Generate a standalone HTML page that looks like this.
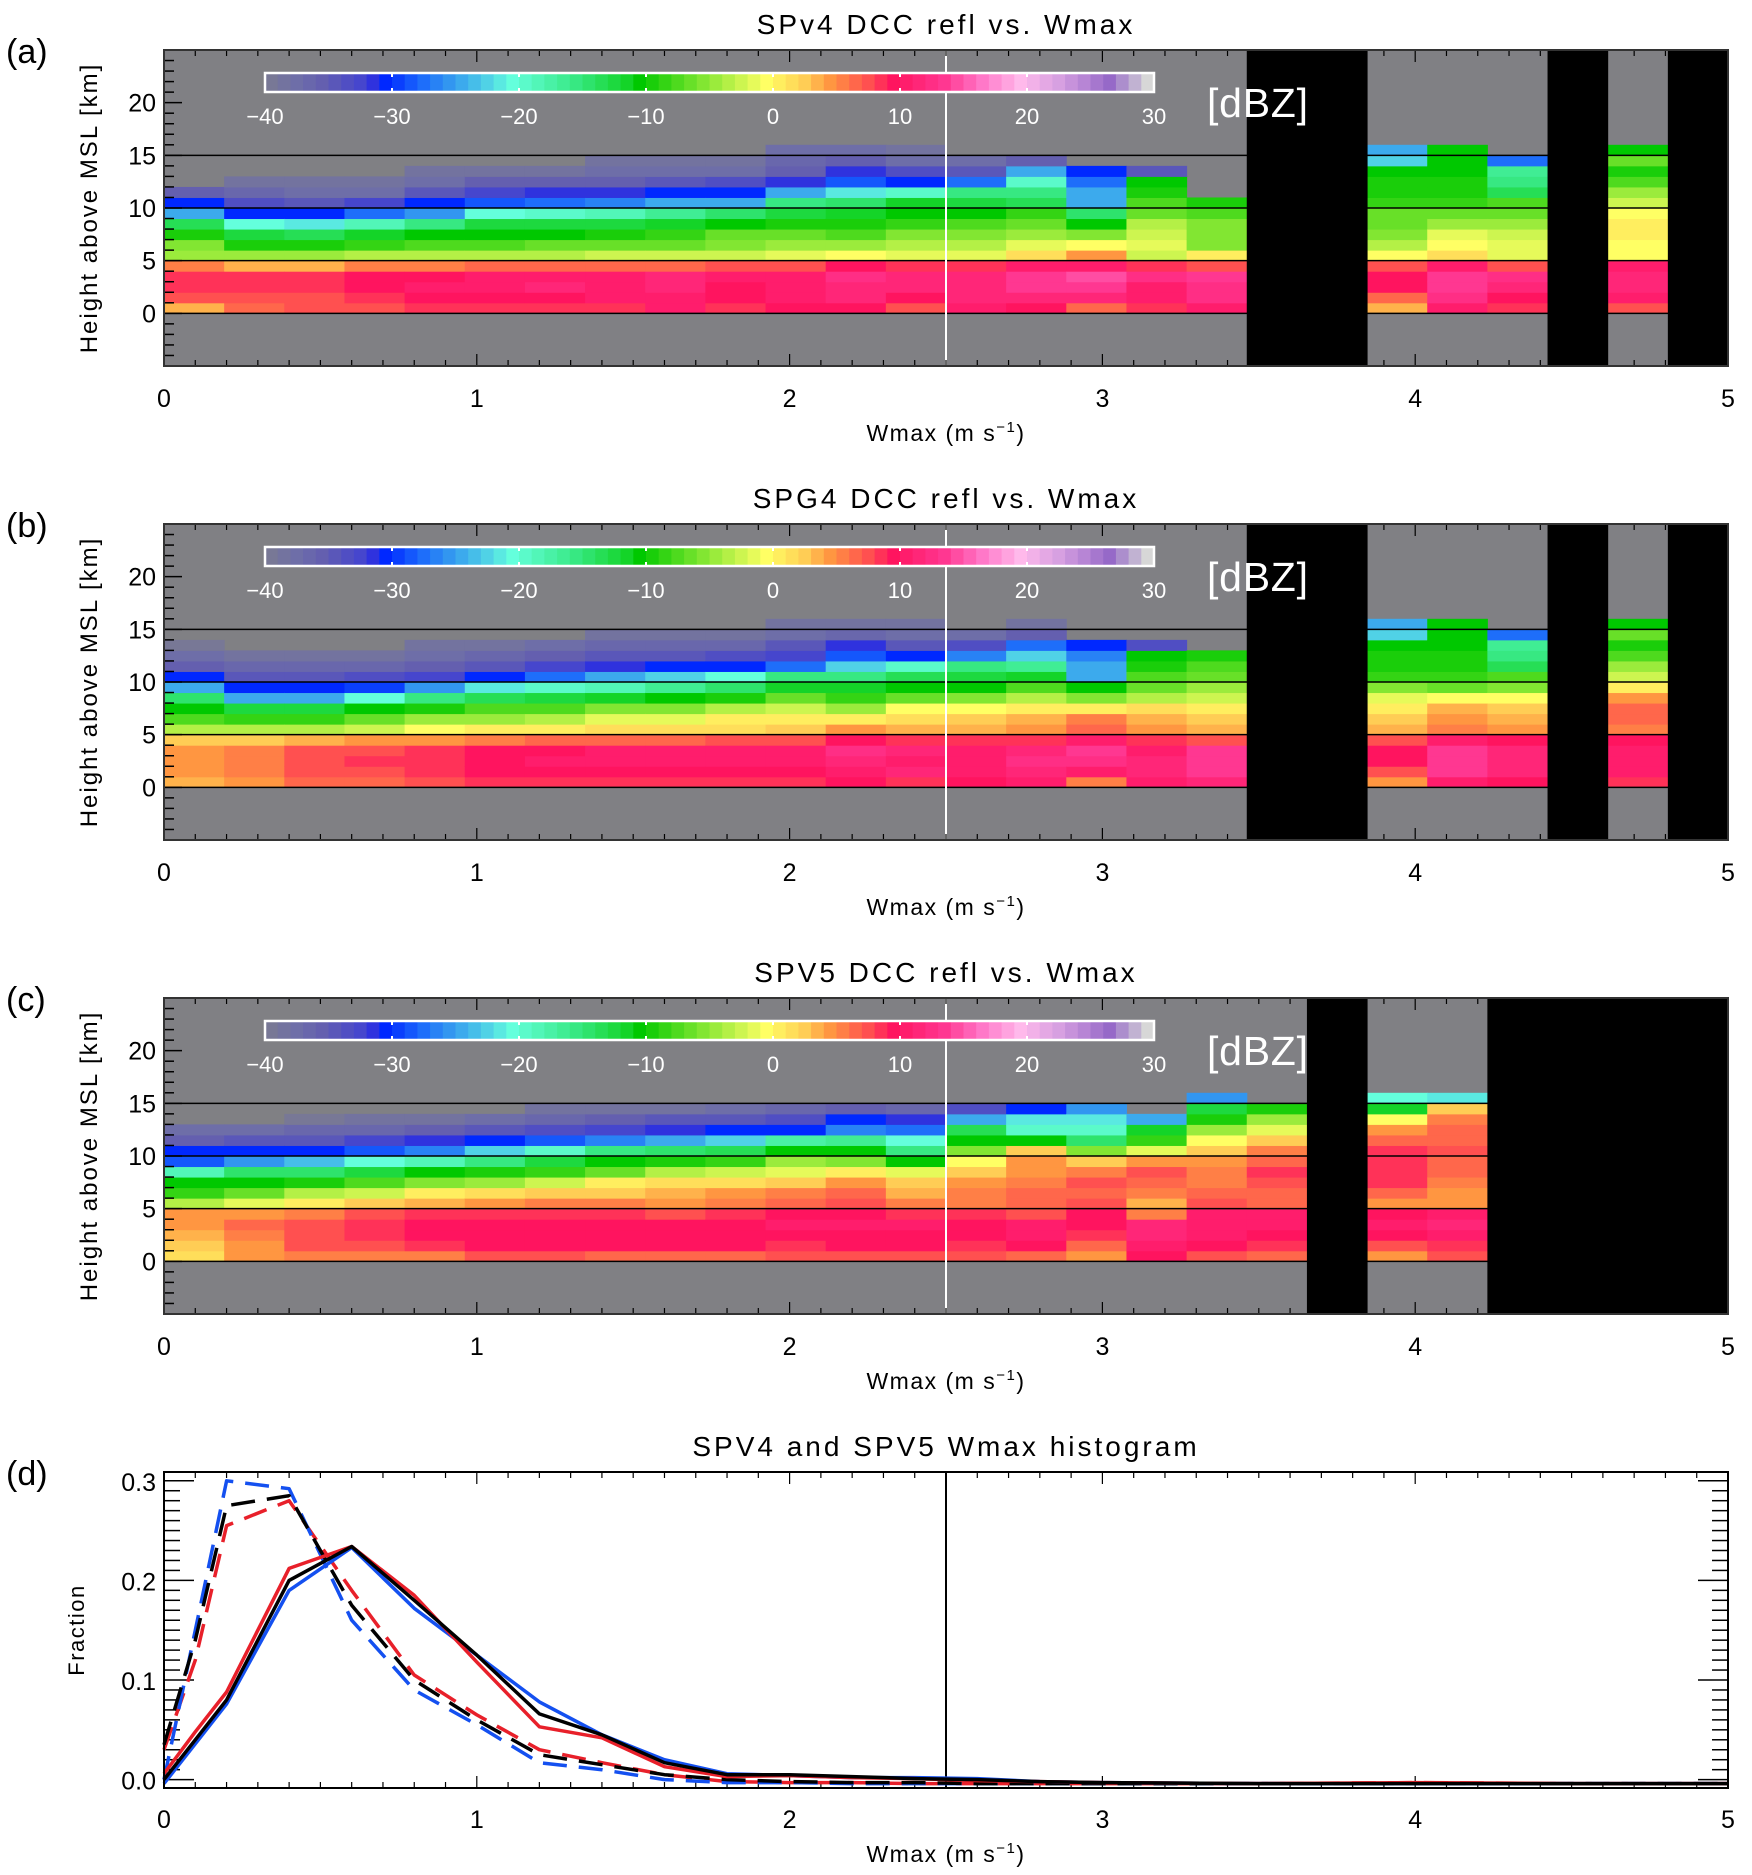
<!DOCTYPE html>
<html><head><meta charset="utf-8">
<style>
html,body{margin:0;padding:0;background:#fff;}
svg{display:block;font-family:"Liberation Sans",sans-serif;}
</style></head>
<body>
<svg id="fig" width="1752" height="1875" viewBox="0 0 1752 1875" xmlns="http://www.w3.org/2000/svg"></svg>
<script>
// ===== Data =====
const colorbarTicks = [-40,-30,-20,-10,0,10,20,30];
const xTickLabels = [0,1,2,3,4,5];
const yTickLabelsKm = [0,5,10,15,20];
const nCols = 26;
// panel (a) columns: dBZ per 1-km layer from 0 km upward; null = black (no data)
const colsA = [
[4,8,9,9,6,-4,-5,-9,-13,-24,-30,-35],
[7,8,9,9,4,-4,-9,-12,-20,-30,-33,-36,-38],
[8,8,9,9,4,-4,-9,-13,-21,-30,-34,-37,-38],
[8,9,10,10,6,-3,-8,-11,-18,-27,-32,-37,-38],
[9,10,11,10,6,-3,-7,-10,-15,-25,-30,-34,-37,-38],
[9,10,11,11,7,-3,-7,-10,-12,-20,-28,-32,-35,-38],
[9,10,12,11,7,-3,-6,-10,-12,-19,-27,-31,-35,-38],
[9,11,11,11,7,-2,-6,-9,-12,-18,-26,-31,-35,-37,-38],
[11,11,12,12,7,-2,-6,-8,-11,-16,-24,-30,-34,-37,-38],
[9,10,10,11,8,-2,-5,-6,-10,-14,-24,-30,-33,-37,-38],
[10,11,11,11,8,-1,-4,-6,-9,-12,-15,-24,-31,-35,-36,-37],
[10,12,12,13,10,0,-4,-7,-9,-11,-14,-21,-28,-31,-35,-37],
[8,10,12,12,9,-1,-3,-5,-8,-10,-11,-19,-30,-33,-37,-38],
[11,12,12,12,9,-1,-3,-5,-7,-10,-12,-15,-27,-34,-37],
[10,12,14,14,11,2,-1,-4,-6,-8,-13,-15,-19,-24,-35],
[7,12,14,15,11,5,0,-5,-10,-14,-24,-24,-27,-30],
[9,11,11,13,9,-2,-1,-2,-3,-6,-7,-9,-10,-34],
[11,13,13,14,8,1,-5,-5,-5,-7,-9],
null,null,
[4,7,10,10,8,0,-3,-5,-6,-6,-8,-9,-9,-10,-22,-24],
[11,13,14,14,11,2,0,-1,-4,-6,-8,-9,-9,-10,-10,-10],
[9,10,12,13,8,-1,-1,-2,-4,-6,-7,-13,-15,-16,-27],
null,
[8,11,12,12,11,0,0,1,1,0,-2,-4,-7,-9,-6,-10],
null
];
const colsB = [
[4,5,5,5,3,-3,-7,-10,-14,-24,-30,-35,-37,-39],
[5,6,6,6,3,-3,-8,-12,-24,-30,-34,-36,-38],
[7,8,8,8,4,-3,-8,-12,-24,-30,-34,-36,-38],
[7,8,9,8,5,-2,-6,-10,-20,-29,-33,-36,-38],
[8,9,9,9,5,0,-4,-9,-15,-25,-32,-35,-37,-38],
[9,10,10,10,6,1,-4,-7,-13,-21,-30,-34,-36,-38],
[9,10,11,10,7,1,-3,-7,-12,-19,-27,-32,-35,-37],
[9,10,11,11,7,2,-1,-5,-11,-18,-24,-31,-34,-36,-38],
[9,10,11,11,7,2,-1,-5,-10,-16,-22,-30,-34,-36,-38],
[9,10,11,11,8,2,1,-3,-9,-14,-20,-30,-33,-36,-38],
[9,10,11,11,8,3,1,-2,-6,-11,-15,-27,-32,-34,-37,-38],
[10,11,12,13,10,5,1,-4,-8,-11,-15,-22,-28,-31,-36,-38],
[9,12,11,12,9,4,2,0,-6,-10,-13,-19,-30,-34,-37,-38],
[10,11,11,11,9,4,3,0,-5,-10,-12,-15,-26,-33,-37],
[11,12,13,12,9,5,4,1,-3,-7,-11,-16,-22,-27,-35,-38],
[6,11,13,14,11,7,6,1,-5,-10,-24,-24,-26,-30],
[11,12,12,11,9,5,4,2,-3,-6,-7,-9,-10,-33],
[12,14,14,14,8,4,3,1,-2,-4,-6,-7,-9],
null,null,
[5,8,10,10,8,4,3,1,-1,-5,-8,-9,-9,-10,-22,-24],
[11,14,14,14,11,6,5,4,0,-6,-8,-9,-9,-10,-10,-10],
[10,12,12,12,10,5,4,3,0,-5,-7,-13,-15,-16,-27],
null,
[9,11,11,11,10,6,7,7,5,1,-2,-4,-7,-9,-6,-10],
null
];
const colsC = [
[2,3,4,5,5,-3,-8,-10,-18,-28,-30,-35,-37],
[5,5,6,7,5,-1,-6,-10,-14,-25,-30,-34,-37],
[6,8,8,8,6,1,-3,-9,-14,-23,-30,-34,-36,-39],
[6,8,9,9,8,3,-2,-7,-12,-20,-28,-32,-36,-38],
[6,9,10,10,9,4,1,-5,-10,-18,-26,-31,-35,-38],
[8,10,10,10,9,5,2,-4,-9,-15,-22,-30,-34,-37],
[8,10,10,10,9,6,3,-2,-8,-12,-19,-28,-33,-36,-38],
[7,10,10,10,9,6,3,1,-6,-10,-15,-26,-32,-35,-38],
[7,10,10,10,8,5,4,2,-3,-9,-14,-24,-31,-34,-38],
[7,10,10,10,9,6,5,2,-2,-8,-13,-22,-30,-34,-37],
[8,9,10,11,10,7,6,3,-1,-4,-10,-17,-30,-33,-36],
[8,10,10,11,10,8,7,5,1,-5,-10,-16,-26,-30,-35],
[8,10,10,11,9,6,4,3,-1,-10,-15,-20,-27,-31,-36],
[8,9,10,10,9,6,6,5,3,0,-5,-10,-13,-24,-33],
[7,10,11,11,8,7,7,6,5,5,3,-10,-19,-21,-30],
[5,7,9,10,10,8,7,8,6,3,-5,-14,-19,-21,-25],
[10,11,12,12,6,4,6,7,8,5,-1,-8,-11,-24],
[8,10,11,11,11,8,7,6,6,5,3,0,-4,-9,-12,-25],
[7,9,10,11,11,7,7,8,9,7,6,3,-1,-4,-9],
null,
[5,8,10,11,10,5,7,9,9,9,9,7,5,0,-11,-20],
[8,9,11,12,11,5,5,6,7,7,8,7,7,6,3,-21],
null,null,null,null
];
// panel (d) histogram series
const histX = [0,0.1,0.2,0.4,0.6,0.8,1.0,1.2,1.4,1.6,1.8,2.0,2.2,2.4,2.6,2.8,3.0,3.5,4.0,4.5,5.0];
const v4Solid = [0.000,0.040,0.080,0.200,0.234,0.180,0.125,0.066,0.045,0.017,0.005,0.005,0.003,0.001,0.000,-0.002,-0.003,-0.004,-0.004,-0.004,-0.004];
const v5Solid = [0.006,0.048,0.088,0.212,0.234,0.185,0.118,0.053,0.042,0.013,0.003,0.004,0.002,0.001,-0.001,-0.002,-0.003,-0.004,-0.003,-0.004,-0.004];
const g4Solid = [-0.004,0.036,0.076,0.190,0.233,0.172,0.125,0.078,0.045,0.020,0.006,0.004,0.002,0.002,0.001,-0.002,-0.003,-0.004,-0.004,-0.004,-0.004];
const v4Dash = [0.035,0.140,0.275,0.285,0.175,0.100,0.060,0.025,0.015,0.005,0.000,-0.002,-0.003,-0.003,-0.004,-0.004,-0.004,-0.004,-0.004,-0.004,-0.004];
const v5Dash = [0.030,0.120,0.255,0.280,0.190,0.105,0.065,0.030,0.017,0.005,-0.002,-0.003,-0.003,-0.004,-0.004,-0.004,-0.004,-0.004,-0.003,-0.004,-0.004];
const g4Dash = [0.000,0.150,0.300,0.292,0.160,0.090,0.055,0.017,0.010,0.000,-0.003,-0.003,-0.004,-0.004,-0.004,-0.004,-0.004,-0.004,-0.004,-0.004,-0.004];
const fracTicks = ["0.0","0.1","0.2","0.3"];
const fracTickVals = [0,0.1,0.2,0.3];

// ===== helpers =====
const NS="http://www.w3.org/2000/svg";
const svg=document.getElementById('fig');
function el(tag,attrs,parent,text){const e=document.createElementNS(NS,tag);for(const k in attrs)e.setAttribute(k,attrs[k]);if(text!==undefined)e.textContent=text;(parent||svg).appendChild(e);return e;}
const L=164,R=1728;
function xs(v){return L+(R-L)*v/5;}
const stops=[[-40,[128,128,130]],[-39,[120,120,150]],[-37,[110,110,168]],[-35,[100,95,175]],[-32,[70,70,205]],[-30.5,[35,40,230]],[-30,[0,40,255]],[-27,[30,110,250]],[-25,[50,150,240]],[-22,[80,210,230]],[-20,[100,255,220]],[-15,[55,232,130]],[-11,[20,212,40]],[-10,[0,200,0]],[-5,[130,230,50]],[-1,[230,250,90]],[0,[255,255,100]],[3,[255,205,85]],[5,[255,150,65]],[8,[255,80,80]],[10,[255,20,95]],[14,[255,55,145]],[17,[255,120,200]],[20,[255,185,235]],[23,[215,160,225]],[27,[150,105,200]],[30,[215,215,215]]];
function cmap(v){v=Math.round(v);if(v<=-40)return 'rgb(128,128,130)';if(v>=30)return 'rgb(215,215,215)';
for(let i=0;i<stops.length-1;i++){const a=stops[i],b=stops[i+1];if(v>=a[0]&&v<=b[0]){const t=(v-a[0])/(b[0]-a[0]);const c=a[1].map((x,j)=>Math.round(x+(b[1][j]-x)*t));return 'rgb('+c.join(',')+')';}}return '#888';}

function heatPanel(top,bot,cols,title,letter,id){
  const g=el('g',{});
  
  
  const ys=km=>bot-(bot-top)*(km+5)/30;
  const bg=el('rect',{x:L,y:top,width:R-L,height:bot-top,fill:'#808084'},g);
  
  
  const cw=5/nCols;
  cols.forEach((col,i)=>{
    if(!col)return;
    col.forEach((v,k)=>{
      if(v===null)return;
      const r=el('rect',{x:xs(i*cw),y:ys(k+1),width:xs((i+1)*cw)-xs(i*cw)+0.5,height:ys(k)-ys(k+1)+0.5,fill:cmap(v)},g);
      
      
    });
  });
  [0,5,10,15].forEach(h=>{const ln=el('line',{x1:L,x2:R,y1:ys(h),y2:ys(h),stroke:'#000','stroke-width':1.5},g);
    
    });
  cols.forEach((col,i)=>{
    if(col)return;
    const b=el('rect',{x:xs(i*cw),y:top,width:xs((i+1)*cw)-xs(i*cw)+0.5,height:bot-top,fill:'#000'},g);
    
    
  });
  const wl=el('line',{x1:xs(2.5),x2:xs(2.5),y1:top,y2:bot,stroke:'#fff','stroke-width':2},g);
  
  
  for(let k=-5;k<=25;k++){const big=k%5===0;el('line',{x1:L,x2:L+(big?18:10),y1:ys(k),y2:ys(k),stroke:'#000','stroke-width':1.5},g);}
  for(let j=0;j<=50;j++){const big=j%10===0;el('line',{x1:xs(j/10),x2:xs(j/10),y1:top,y2:top+(big?12:6),stroke:'#000','stroke-width':1.2},g);el('line',{x1:xs(j/10),x2:xs(j/10),y1:bot,y2:bot-(big?12:6),stroke:'#000','stroke-width':1.2},g);}
  el('rect',{x:L,y:top,width:R-L,height:bot-top,fill:'none',stroke:'#333','stroke-width':2},g);
  // colorbar
  const cbx0=265,cbx1=1154,cby=top+23,cbh=19;
  const cbs=(cbx1-cbx0)/70;
  for(let v=-40;v<30;v++){el('rect',{x:cbx0+(v+40)*cbs,y:cby,width:cbs+0.6,height:cbh,fill:cmap(v+0.5)},g);}
  const cbo=el('rect',{x:cbx0,y:cby,width:cbx1-cbx0,height:cbh,fill:'none',stroke:'#fff','stroke-width':2.5},g);
  
  
  colorbarTicks.forEach(t=>{const x=cbx0+(t+40)*cbs;
    el('line',{x1:x,x2:x,y1:cby,y2:cby+4,stroke:'#fff','stroke-width':2},g);
    el('line',{x1:x,x2:x,y1:cby+cbh,y2:cby+cbh-4,stroke:'#fff','stroke-width':2},g);
    const tl=el('text',{x:x,y:cby+51,'font-size':22,fill:'#fff','text-anchor':'middle'},g,(t<0?'\u2212':'')+Math.abs(t));
    
    });
  const u=el('text',{x:1207,y:top+67,'font-size':41,fill:'#fff',textLength:101},g,'[dBZ]');
  
  
  yTickLabelsKm.forEach(h=>{const t=el('text',{x:156,y:ys(h)+9,'font-size':25,'text-anchor':'end'},g,String(h));
    
    });
  xTickLabels.forEach(v=>{const t=el('text',{x:xs(v),y:bot+41,'font-size':25,'text-anchor':'middle'},g,String(v));
    
    });
  const yt=el('text',{transform:`translate(97,${(top+bot)/2}) rotate(-90)`,'font-size':24,'text-anchor':'middle','letter-spacing':'2'},g,'Height  above  MSL  [km]');
  
  
  const xt=el('text',{x:946,y:bot+75,'font-size':23,'text-anchor':'middle','letter-spacing':'1.5'},g);
  
  
  xt.innerHTML='Wmax (m s<tspan dy="-9" font-size="15">\u22121</tspan><tspan dy="9">)</tspan>';
  const tt=el('text',{x:946,y:top-16,'font-size':28,'text-anchor':'middle','letter-spacing':'3'},g,title);
  
  
  const lt=el('text',{x:6,y:top+13,'font-size':34},g,letter);
  
  
}
heatPanel(50,366,colsA,'SPv4  DCC  refl  vs.  Wmax','(a)','a');
heatPanel(524,840,colsB,'SPG4  DCC  refl  vs.  Wmax','(b)','b');
heatPanel(998,1314,colsC,'SPV5  DCC  refl  vs.  Wmax','(c)','c');

// ===== panel d =====
(function(){
  const top=1472,bot=1788,ymin=-0.0084,ymax=0.3088;
  const ys=v=>bot-(bot-top)*(v-ymin)/(ymax-ymin);
  const g=el('g',{});
  
  
  for(let k=0;k<=30;k++){const v=k/100,big=k%10===0;
    el('line',{x1:L,x2:L+(big?30:16),y1:ys(v),y2:ys(v),stroke:'#000','stroke-width':1.5},g);
    el('line',{x1:R,x2:R-(big?30:16),y1:ys(v),y2:ys(v),stroke:'#000','stroke-width':1.5},g);}
  for(let j=0;j<=50;j++){const big=j%10===0;el('line',{x1:xs(j/10),x2:xs(j/10),y1:top,y2:top+(big?12:6),stroke:'#000','stroke-width':1.2},g);el('line',{x1:xs(j/10),x2:xs(j/10),y1:bot,y2:bot-(big?12:6),stroke:'#000','stroke-width':1.2},g);}
  const vl=el('line',{x1:xs(2.5),x2:xs(2.5),y1:top,y2:bot,stroke:'#000','stroke-width':2},g);
  
  
  const series=[[v5Dash,'#e8202a',true,'spv5-dashed'],[g4Dash,'#1450f0',true,'spg4-dashed'],[v4Dash,'#000',true,'spv4-dashed'],[g4Solid,'#1450f0',false,'spg4-solid'],[v5Solid,'#e8202a',false,'spv5-solid'],[v4Solid,'#000',false,'spv4-solid']];
  series.forEach(s=>{
    const d=histX.map((x,i)=>(i?'L':'M')+xs(x).toFixed(1)+','+ys(s[0][i]).toFixed(1)).join(' ');
    const p=el('path',{d:d,fill:'none',stroke:s[1],'stroke-width':3.5,'stroke-dasharray':s[2]?'24,12':'none','stroke-linejoin':'round'},g);
    
    
  });
  el('rect',{x:L,y:top,width:R-L,height:bot-top,fill:'none',stroke:'#000','stroke-width':2},g);
  fracTickVals.forEach((v,i)=>{const t=el('text',{x:156,y:ys(v)+10,'font-size':25,'text-anchor':'end'},g,fracTicks[i]);
    
    });
  xTickLabels.forEach(v=>{const t=el('text',{x:xs(v),y:bot+40,'font-size':25,'text-anchor':'middle'},g,String(v));
    
    });
  const yt=el('text',{transform:`translate(84,${(top+bot)/2}) rotate(-90)`,'font-size':22,'text-anchor':'middle','letter-spacing':'1.5'},g,'Fraction');
  
  
  const xt=el('text',{x:946,y:bot+74,'font-size':23,'text-anchor':'middle','letter-spacing':'1.5'},g);
  
  
  xt.innerHTML='Wmax (m s<tspan dy="-9" font-size="15">\u22121</tspan><tspan dy="9">)</tspan>';
  const tt=el('text',{x:946,y:top-16,'font-size':28,'text-anchor':'middle','letter-spacing':'3'},g,'SPV4  and  SPV5  Wmax  histogram');
  
  
  const lt=el('text',{x:6,y:top+13,'font-size':34},g,'(d)');
  
  
})();
</script>
</body></html>
